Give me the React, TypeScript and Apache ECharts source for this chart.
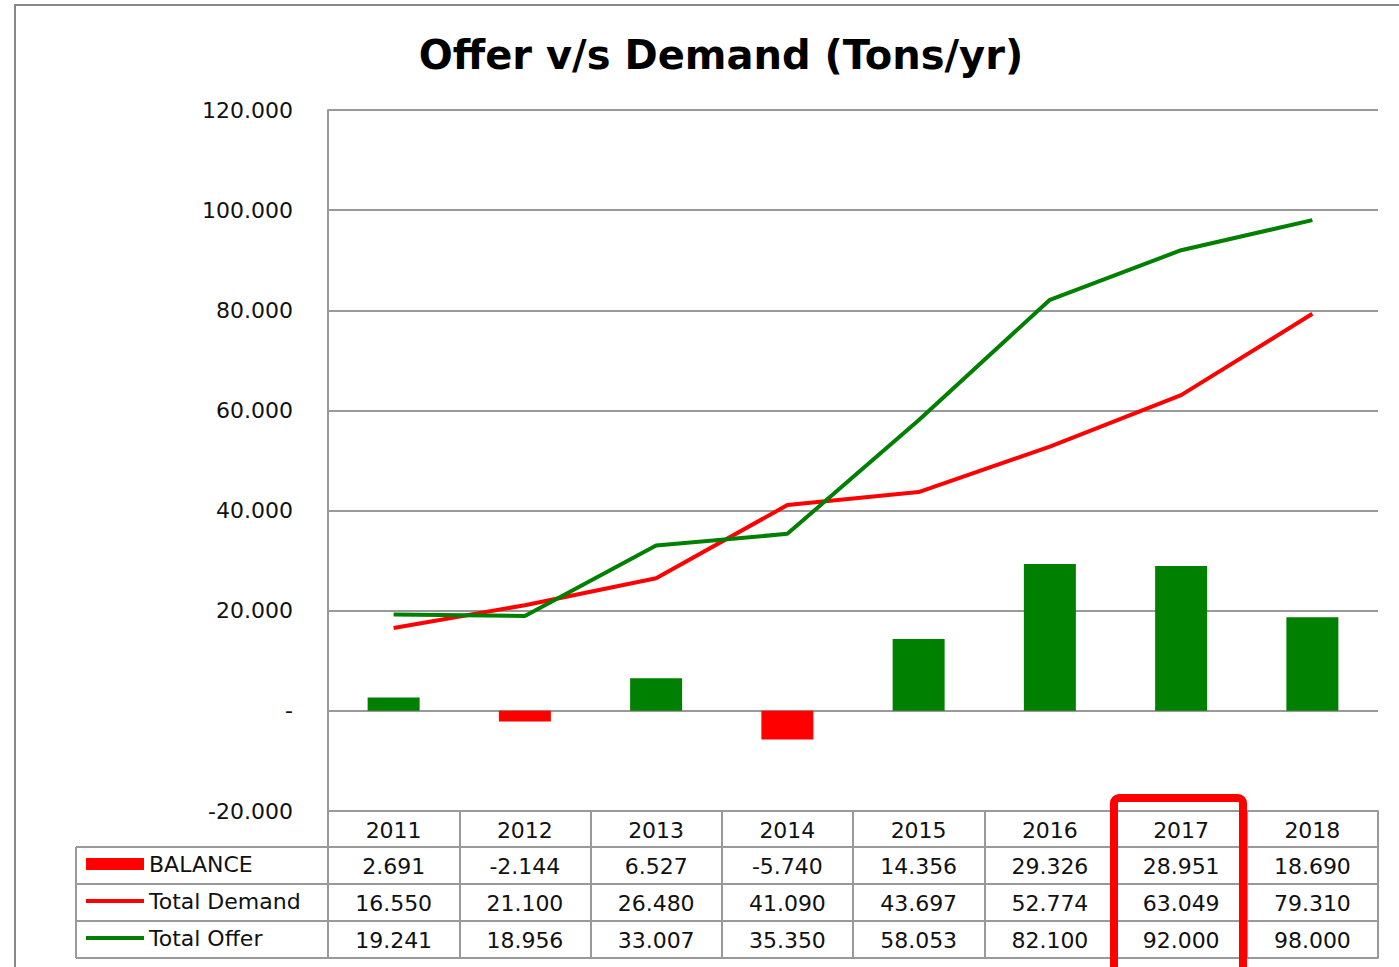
import React, { useEffect, useRef } from "react";
import * as echarts from "echarts";

const years = ["2011", "2012", "2013", "2014", "2015", "2016", "2017", "2018"];
const balance = [2.691, -2.144, 6.527, -5.74, 14.356, 29.326, 28.951, 18.69];
const totalDemand = [16.55, 21.1, 26.48, 41.09, 43.697, 52.774, 63.049, 79.31];
const totalOffer = [19.241, 18.956, 33.007, 35.35, 58.053, 82.1, 92.0, 98.0];
const seriesNames = ["BALANCE", "Total Demand", "Total Offer"];
const yTicks = { min: -20, max: 120, interval: 20 };

const GREEN = "#008000";
const RED = "#ff0000";
const GRID = "#999999";
const FONT = "DejaVu Sans";
const LINE_ICON = "path://M0,0H60V4H0Z";

const fmt = (v: number) => (v === 0 ? "-" : v.toFixed(3));

export default function App() {
  const ref = useRef<HTMLDivElement>(null);
  useEffect(() => {
    if (!ref.current) return;
    const chart = echarts.init(ref.current, null, { renderer: "svg" });
    const rowOffsets = [0, 36, 73, 110, 147];
    const rowData = [years, balance.map(fmt), totalDemand.map(fmt), totalOffer.map(fmt), years];
    const xAxes = rowOffsets.map((off, i) => ({
      type: "category",
      data: rowData[i],
      position: "bottom",
      offset: off,
      boundaryGap: true,
      axisLine: { show: true, onZero: false, lineStyle: { color: GRID, width: 2 } },
      axisTick: {
        show: i < 4,
        interval: 0,
        length: i === 0 ? 36 : 37,
        lineStyle: { color: GRID, width: 2 },
      },
      axisLabel: {
        show: i < 4,
        interval: 0,
        margin: 8,
        color: "#111",
        fontFamily: FONT,
        fontSize: 22,
      },
      splitLine: { show: false },
    }));
    chart.setOption({
      animation: false,
      title: {
        text: "Offer v/s Demand (Tons/yr)",
        left: 716,
        textAlign: "center",
        top: 30,
        textStyle: { fontFamily: FONT, fontWeight: "bold", fontSize: 40, color: "#000" },
      },
      legend: {
        orient: "vertical",
        left: 86,
        top: 852,
        padding: 0,
        itemWidth: 58,
        itemHeight: 12,
        itemGap: 13,
        data: [
          { name: seriesNames[0], icon: "rect" },
          { name: seriesNames[1], icon: LINE_ICON },
          { name: seriesNames[2], icon: LINE_ICON },
        ],
        textStyle: { fontFamily: FONT, fontSize: 22, color: "#111", lineHeight: 24 },
      },
      grid: { left: 328, top: 110, width: 1050, height: 701, containLabel: false },
      xAxis: xAxes,
      yAxis: {
        type: "value",
        min: yTicks.min,
        max: yTicks.max,
        interval: yTicks.interval,
        axisLine: { show: true, lineStyle: { color: GRID, width: 2 } },
        axisTick: { show: false },
        splitLine: { show: true, lineStyle: { color: GRID, width: 2 } },
        axisLabel: {
          formatter: (v: number) => fmt(v),
          margin: 35,
          color: "#111",
          fontFamily: FONT,
          fontSize: 22,
        },
      },
      graphic: [
        {
          type: "rect",
          shape: { x: 15, y: 5, width: 1500, height: 1100 },
          style: { fill: "none", stroke: "#888", lineWidth: 2 },
          silent: true,
          z: 0,
        },
        ...[847, 884, 921, 958].map((y) => ({
          type: "line",
          shape: { x1: 76, y1: y, x2: 328, y2: y },
          style: { stroke: GRID, lineWidth: 2 },
          silent: true,
        })),
        {
          type: "line",
          shape: { x1: 76, y1: 847, x2: 76, y2: 958 },
          style: { stroke: GRID, lineWidth: 2 },
          silent: true,
        },
        {
          type: "rect",
          shape: { x: 1114, y: 798, width: 129, height: 300, r: 5 },
          style: { fill: "none", stroke: RED, lineWidth: 8 },
          silent: true,
          z: 100,
        },
      ],
      series: [
        {
          name: seriesNames[0],
          type: "bar",
          xAxisIndex: 0,
          barWidth: 52,
          itemStyle: { color: RED },
          data: balance.map((v) => ({ value: v, itemStyle: { color: v >= 0 ? GREEN : RED } })),
          z: 2,
        },
        {
          name: seriesNames[1],
          type: "line",
          xAxisIndex: 0,
          symbol: "none",
          lineStyle: { color: RED, width: 4 },
          itemStyle: { color: RED },
          data: totalDemand,
          z: 3,
        },
        {
          name: seriesNames[2],
          type: "line",
          xAxisIndex: 0,
          symbol: "none",
          lineStyle: { color: GREEN, width: 4 },
          itemStyle: { color: GREEN },
          data: totalOffer,
          z: 4,
        },
      ],
    });
    return () => chart.dispose();
  }, []);
  return (
    <div
      ref={ref}
      style={{ position: "fixed", left: 0, top: 0, width: 1399, height: 967, background: "#fff" }}
    />
  );
}
